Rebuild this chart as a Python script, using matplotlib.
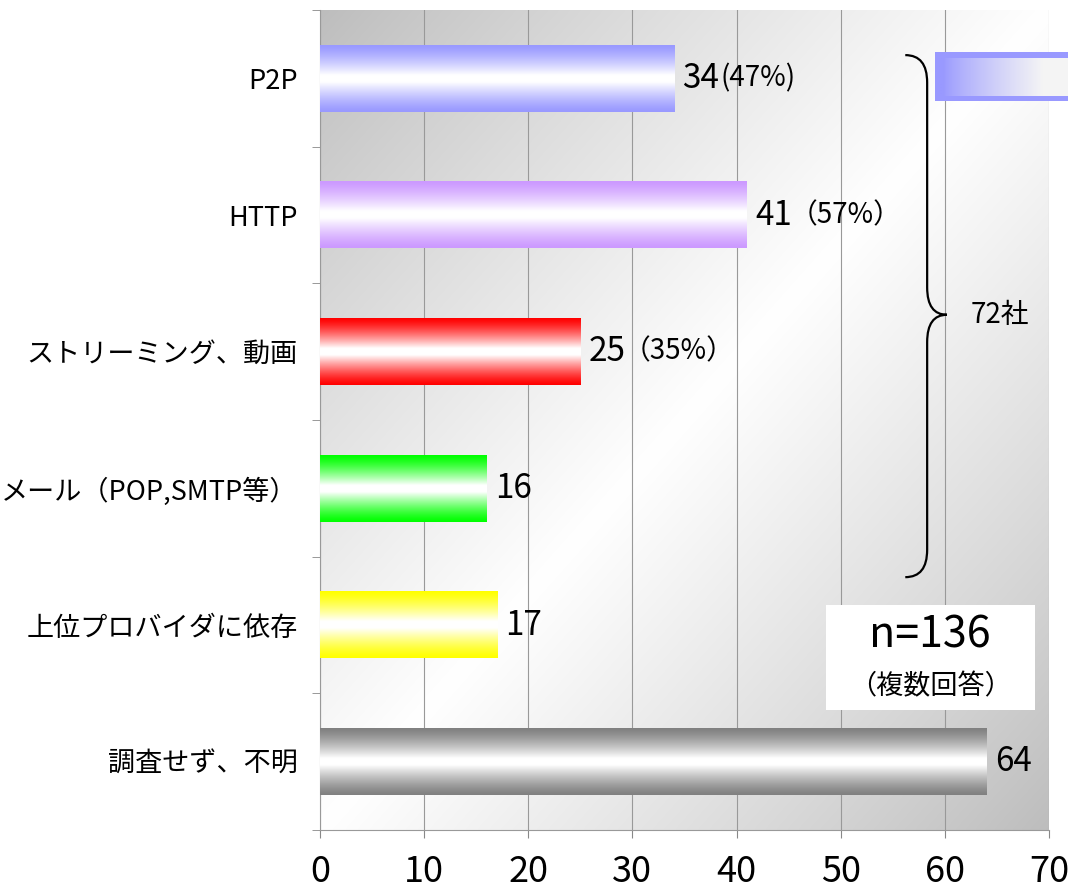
import numpy as np
import matplotlib
matplotlib.use("Agg")
import matplotlib.pyplot as plt
from matplotlib.path import Path
from matplotlib.patches import PathPatch, Rectangle
from matplotlib.colors import to_rgb

# data
categories = ["P2P", "HTTP", "ストリーミング、動画", "メール（POP,SMTP等）", "上位プロバイダに依存", "調査せず、不明"]
counts = [34, 41, 25, 16, 17, 64]
shares = ["(47%)", "（57%）", "（35%）", "", "", ""]
bar_colors = ["#9999ff", "#cc99ff", "#ff0000", "#00ff00", "#ffff00", "#808080"]
x_ticks = [0, 10, 20, 30, 40, 50, 60, 70]

CJK = ["Noto Sans CJK JP", "DejaVu Sans"]
NARROW = ["Liberation Sans Narrow", "Noto Sans CJK JP", "DejaVu Sans"]
plt.rcParams["font.family"] = CJK

fig = plt.figure(figsize=(10.68, 8.88), dpi=100)
ax = fig.add_axes([320 / 1068, 1 - 830 / 888, 729 / 1068, 820 / 888])

# plot area background: gray corners top-left / bottom-right, white diagonal
u = np.linspace(0, 1, 300)
uu, ww = np.meshgrid(u, u)
t = (uu + ww) / 2
g = 0.74 + 0.26 * (1 - np.abs(2 * t - 1)) ** 0.9
bg = np.dstack([g, g, g])
ax.imshow(bg, extent=(0, 1, 0, 1), transform=ax.transAxes, aspect="auto",
          zorder=0, interpolation="bilinear")

y = np.arange(len(categories))
bars = ax.barh(y, counts, height=0.49, color=bar_colors, zorder=2)

v = np.linspace(0, 1, 200)
s = np.clip((1 - np.abs(2 * v - 1)) / 0.9, 0, 1) ** 1.3
for b, col in zip(bars, bar_colors):
    c = np.array(to_rgb(col))
    grad = c[None, :] * (1 - s[:, None]) + s[:, None]
    img = grad[:, None, :]
    ax.imshow(img, extent=(b.get_x(), b.get_x() + b.get_width(),
                           b.get_y(), b.get_y() + b.get_height()),
              aspect="auto", zorder=3, interpolation="bilinear")

# value labels
for i, (n, p) in enumerate(zip(counts, shares)):
    lab = ax.annotate(str(n), xy=(n, i), xytext=(6, 0), textcoords="offset points",
                      va="center", ha="left", fontsize=24, family=NARROW, zorder=5)
    if p:
        ax.annotate(p, xy=(1, 0.5), xycoords=lab, xytext=(1 if p.startswith("(") else -2, 0),
                    textcoords="offset points", va="center", ha="left",
                    fontsize=20, family=CJK, zorder=5)

ax.set_xlim(0, 70)
ax.set_ylim(len(categories) - 0.5, -0.5)
ax.set_aspect("auto")

ax.set_xticks(x_ticks)
ax.set_xticklabels([str(x) for x in x_ticks], fontsize=26, family=NARROW)
ax.tick_params(axis="x", direction="out", length=6, color="#888888", pad=11)
ax.set_yticks(y)
ax.set_yticklabels(categories, fontsize=19.5)
ax.tick_params(axis="y", which="major", length=0, pad=16)
ax.set_yticks(np.arange(-0.5, len(categories)), minor=True)
ax.tick_params(axis="y", which="minor", direction="out", length=6, color="#888888")

ax.grid(axis="x", color="#999999", linewidth=0.8, zorder=1)
ax.set_axisbelow(True)
for side in ["top", "right"]:
    ax.spines[side].set_visible(False)
for side in ["left", "bottom"]:
    ax.spines[side].set_color("#999999")

# brace around first three rows
x0, x1, x2 = 56.2, 58.3, 60.2
yt, ym, yb = -0.17, 1.73, 3.65
verts = [(x0, yt), (x1, yt), (x1, yt + 0.2),
         (x1, ym - 0.2), (x1, ym), (x2, ym),
         (x1, ym), (x1, ym + 0.2),
         (x1, yb - 0.2), (x1, yb), (x0, yb)]
codes = [Path.MOVETO, Path.CURVE3, Path.CURVE3,
         Path.LINETO, Path.CURVE3, Path.CURVE3,
         Path.CURVE3, Path.CURVE3,
         Path.LINETO, Path.CURVE3, Path.CURVE3]
ax.add_patch(PathPatch(Path(verts, codes), fill=False, lw=1.6, color="black", zorder=6))
ax.text(62.5, ym, "72社", fontsize=20, va="center", ha="left", zorder=6)

# sample box
ax.add_patch(Rectangle((48.6, 3.85), 20.1, 0.77, facecolor="white", edgecolor="none", zorder=4))
ax.text(58.6, 4.08, "n=136", fontsize=31, ha="center", va="center", family=CJK, zorder=6)
ax.text(58.6, 4.45, "（複数回答）", fontsize=19.5, ha="center", va="center", zorder=6)

# cropped swatch at top right
ax.add_patch(Rectangle((59.05, -0.19), 16, 0.355, facecolor="#9999ff", edgecolor="none",
                       clip_on=False, zorder=4))
h = np.linspace(0, 1, 200)
hs = np.clip((h - 0.05) / 0.6, 0, 1) ** 0.8
c = np.array(to_rgb("#9999ff"))
hgrad = (c[None, :] * (1 - hs[:, None]) + 0.96 * hs[:, None])[None, :, :]
sw = ax.imshow(hgrad, extent=(59.05, 75, -0.19 + 0.04, 0.166 - 0.04), aspect="auto",
               zorder=5, interpolation="bilinear")
sw.set_clip_on(False)

ax.set_xlim(0, 70)
ax.set_ylim(len(categories) - 0.5, -0.5)

fig.savefig("out.png", dpi=100)
